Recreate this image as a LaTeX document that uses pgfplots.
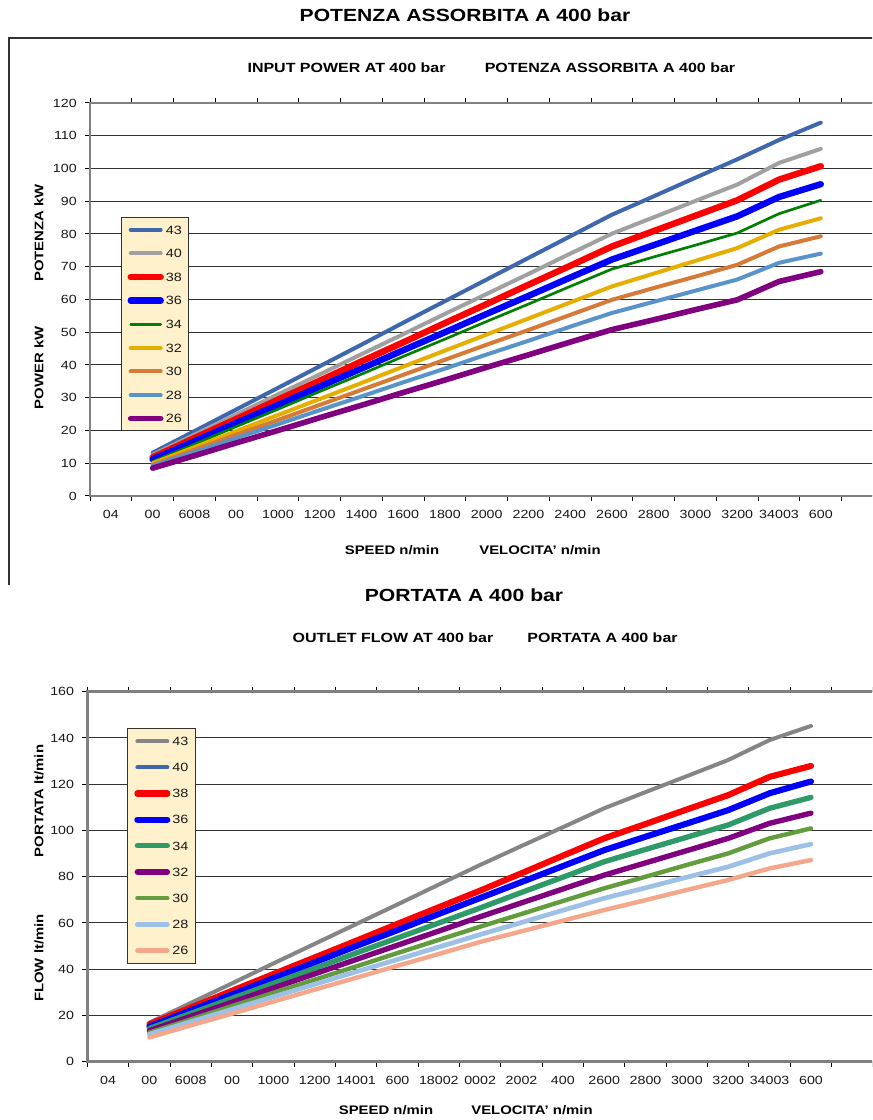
\documentclass[border=0pt]{standalone}
\usepackage{pgfplots}
\pgfplotsset{compat=1.18}
\usepackage{pgfplotstable}
\usepackage{fontspec}
\setmainfont{Liberation Sans}[FakeStretch=1.2]

\definecolor{tA}{HTML}{3F67AD}
\definecolor{tB}{HTML}{A0A0A0}
\definecolor{tC}{HTML}{FF0000}
\definecolor{tD}{HTML}{0000FF}
\definecolor{tE}{HTML}{008000}
\definecolor{tF}{HTML}{E6AE00}
\definecolor{tG}{HTML}{D67A38}
\definecolor{tH}{HTML}{5893C9}
\definecolor{tI}{HTML}{800080}
\definecolor{bA}{HTML}{858585}
\definecolor{bB}{HTML}{3F67AD}
\definecolor{bC}{HTML}{FF0000}
\definecolor{bD}{HTML}{0000FF}
\definecolor{bE}{HTML}{2E9A68}
\definecolor{bF}{HTML}{800080}
\definecolor{bG}{HTML}{629C3C}
\definecolor{bH}{HTML}{9CC0E6}
\definecolor{bI}{HTML}{F4A78A}
\definecolor{legfill}{HTML}{FFF1CC}
\definecolor{axgray}{HTML}{808080}

\pgfplotstableread{
k s43 s40 s38 s36 s34 s32 s30 s28 s26
1 13.2 12.6 11.8 11.2 10.5 10.0 9.5 9.2 8.5
2 19.8 18.7 17.7 16.7 15.8 14.9 14.1 13.4 12.3
3 26.4 24.9 23.5 22.3 21.2 19.8 18.7 17.7 16.2
4 33.0 31.0 29.4 27.8 26.5 24.7 23.2 21.9 20.0
5 39.6 37.1 35.2 33.4 31.9 29.6 27.8 26.2 23.9
6 46.2 43.3 41.1 38.9 37.2 34.5 32.4 30.4 27.7
7 52.9 49.4 46.9 44.5 42.6 39.5 37.0 34.7 31.6
8 59.5 55.6 52.8 50.0 47.9 44.4 41.6 38.9 35.4
9 66.1 61.7 58.6 55.6 53.3 49.3 46.2 43.2 39.3
10 72.7 67.8 64.5 61.1 58.6 54.2 50.7 47.4 43.1
11 79.3 74.0 70.3 66.7 64.0 59.1 55.3 51.7 47.0
12 85.9 80.1 76.2 72.2 69.3 64.0 59.9 55.9 50.8
13 91.5 85.1 80.9 76.6 73.0 67.9 63.5 59.3 53.8
14 97.2 90.1 85.6 81.0 76.6 71.8 67.0 62.7 56.9
15 102.8 95.1 90.3 85.4 80.3 75.7 70.6 66.1 59.9
16 108.7 101.7 96.6 91.3 86.2 81.3 76.2 71.2 65.5
17 114.0 106.0 100.7 95.2 90.3 84.8 79.3 74.0 68.5
}\topdata

\pgfplotstableread{
k s43 s40 s38 s36 s34 s32 s30 s28 s26
1 16.9 16.2 16.2 15.2 14.4 13.4 12.6 11.9 10.5
2 25.4 23.4 23.4 22.2 20.9 19.6 18.3 17.3 15.7
3 33.9 30.7 30.7 29.1 27.4 25.7 24.1 22.7 20.8
4 42.5 37.9 37.9 36.1 33.9 31.9 29.8 28.1 26.0
5 51.0 45.1 45.1 43.0 40.4 38.0 35.5 33.5 31.2
6 59.5 52.3 52.3 50.0 47.0 44.2 41.2 38.9 36.3
7 68.0 59.6 59.6 56.9 53.5 50.4 47.0 44.2 41.5
8 76.6 66.8 66.8 63.9 60.0 56.5 52.7 49.6 46.6
9 85.1 74.0 74.0 70.8 66.5 62.7 58.4 55.0 51.8
10 93.3 81.5 81.5 77.7 73.2 68.7 63.9 60.2 56.4
11 101.4 89.1 89.1 84.6 79.8 74.7 69.5 65.5 61.0
12 109.6 96.6 96.6 91.5 86.5 80.7 75.0 70.7 65.6
13 116.6 102.8 102.8 97.3 91.8 86.0 80.0 75.2 69.9
14 123.5 109.1 109.1 103.0 97.1 91.3 85.1 79.8 74.3
15 130.5 115.3 115.3 108.8 102.4 96.6 90.1 84.3 78.6
16 139.1 123.2 123.2 116.1 109.6 103.1 96.6 90.1 83.6
17 145.2 127.9 127.9 121.2 114.3 107.5 100.9 94.1 87.2
}\botdata

\pgfplotsset{
  excel/.style={
    scale only axis,
    xmin=-0.5, xmax=19.5,
    axis line style={draw=axgray, line width=2.2pt},
    ymajorgrids,
    major grid style={draw=black!80, line width=0.75pt},
    xtick={-0.5,0.5,1.5,2.5,3.5,4.5,5.5,6.5,7.5,8.5,9.5,10.5,11.5,12.5,13.5,14.5,15.5,16.5,17.5,18.5,19.5},
    x tick label as interval,
    tick align=outside,
    major tick length=3.75pt,
    tick style={draw=black, line width=0.75pt},
    tick label style={font=\fontsize{8.9}{10}\selectfont, text=black!90},
    /pgf/number format/assume math mode=true,
    xticklabel style={inner sep=0pt, anchor=north, yshift=-7pt},
    yticklabel style={inner sep=0pt, anchor=east, xshift=-6pt},
    legend cell align=left,
    legend image code/.code={\draw[##1, line cap=round] (0pt,0pt) -- (22.5pt,0pt);},
    every axis plot/.append style={line cap=round, line join=round},
  },
}

\begin{document}
\begin{tikzpicture}
\useasboundingbox (0,0) rectangle (654pt,840pt);
\clip (0,0) rectangle (654pt,840pt);
\fill[white] (0,0) rectangle (654pt,840pt);

% frame of the top chart
\draw[draw=black!80, line width=1pt] (6.75pt,401.25pt) -- (6.75pt,811.5pt) -- (660pt,811.5pt);

\begin{axis}[excel,
  at={(67.5pt,468pt)}, anchor=south west,
  width=626.4pt, height=294.75pt,
  ymin=0, ymax=120, ytick={0,10,...,120},
  xticklabels={04,00,6008,00,1000,1200,1400,1600,1800,2000,2200,2400,2600,2800,3000,3200,34003,600,{},{}},
  legend style={at={(0.037,0.71)}, anchor=north west, fill=legfill, draw=black!80, line width=0.9pt,
    inner xsep=4.5pt, inner ysep=5.5pt, row sep=10.3pt, column sep=1pt,
    font=\fontsize{9}{9}\selectfont, text=black!90,
    nodes={inner sep=0.5pt, text height=6.4pt, text depth=0pt}},
]
\addplot[tA, line width=3pt] table[x=k, y=s43] {\topdata};
\addplot[tB, line width=3pt] table[x=k, y=s40] {\topdata};
\addplot[tC, line width=4.8pt] table[x=k, y=s38] {\topdata};
\addplot[tD, line width=4.8pt] table[x=k, y=s36] {\topdata};
\addplot[tE, line width=2pt] table[x=k, y=s34] {\topdata};
\addplot[tF, line width=3pt] table[x=k, y=s32] {\topdata};
\addplot[tG, line width=3pt] table[x=k, y=s30] {\topdata};
\addplot[tH, line width=3pt] table[x=k, y=s28] {\topdata};
\addplot[tI, line width=4.2pt] table[x=k, y=s26] {\topdata};
\legend{43,40,38,36,34,32,30,28,26}
\end{axis}

\begin{axis}[excel,
  at={(65.5pt,43.7pt)}, anchor=south west,
  width=620.25pt, height=277.5pt,
  ymin=0, ymax=160, ytick={0,20,...,160},
  xticklabels={04,00,6008,00,1000,1200,14001,600,18002,0002,2002,400,2600,2800,3000,3200,34003,600,{},{}},
  legend style={at={(0.048,0.9027)}, anchor=north west, fill=legfill, draw=black!80, line width=0.9pt,
    inner xsep=5pt, inner ysep=6pt, row sep=12.2pt, column sep=1pt,
    font=\fontsize{9}{9}\selectfont, text=black!90,
    nodes={inner sep=0.5pt, text height=6.4pt, text depth=0pt}},
]
\addplot[bA, line width=3pt] table[x=k, y=s43] {\botdata};
\addplot[bB, line width=3pt] table[x=k, y=s40] {\botdata};
\addplot[bC, line width=4.6pt] table[x=k, y=s38] {\botdata};
\addplot[bD, line width=4.6pt] table[x=k, y=s36] {\botdata};
\addplot[bE, line width=4pt] table[x=k, y=s34] {\botdata};
\addplot[bF, line width=4pt] table[x=k, y=s32] {\botdata};
\addplot[bG, line width=3.3pt] table[x=k, y=s30] {\botdata};
\addplot[bH, line width=3.5pt] table[x=k, y=s28] {\botdata};
\addplot[bI, line width=3.3pt] table[x=k, y=s26] {\botdata};
\legend{43,40,38,36,34,32,30,28,26}
\end{axis}

% titles and labels
\node[anchor=base, font=\bfseries\fontsize{13.2}{15}\selectfont] at (348.75pt,824pt) {POTENZA ASSORBITA A 400 bar};
\node[anchor=base, font=\bfseries\fontsize{10}{12}\selectfont] at (259.9pt,785.25pt) {INPUT POWER AT 400 bar};
\node[anchor=base, font=\bfseries\fontsize{10}{12}\selectfont] at (457.5pt,785.25pt) {POTENZA ASSORBITA A 400 bar};
\node[anchor=base, font=\bfseries\fontsize{9.3}{11}\selectfont] at (294pt,424.1pt) {SPEED n/min};
\node[anchor=base, font=\bfseries\fontsize{9.3}{11}\selectfont] at (405pt,424.1pt) {VELOCITA' n/min};
\node[rotate=90, font=\bfseries\fontsize{9.3}{11}\selectfont] at (29.25pt,665.25pt) {POTENZA kW};
\node[rotate=90, font=\bfseries\fontsize{9.3}{11}\selectfont] at (29.25pt,564pt) {POWER kW};

\node[anchor=base, font=\bfseries\fontsize{13.2}{15}\selectfont] at (348pt,389.1pt) {PORTATA A 400 bar};
\node[anchor=base, font=\bfseries\fontsize{10}{12}\selectfont] at (294.75pt,357.75pt) {OUTLET FLOW AT 400 bar};
\node[anchor=base, font=\bfseries\fontsize{10}{12}\selectfont] at (451.9pt,357.75pt) {PORTATA A 400 bar};
\node[anchor=base, font=\bfseries\fontsize{9.3}{11}\selectfont] at (289.5pt,4.1pt) {SPEED n/min};
\node[anchor=base, font=\bfseries\fontsize{9.3}{11}\selectfont] at (399pt,4.1pt) {VELOCITA' n/min};
\node[rotate=90, font=\bfseries\fontsize{9.3}{11}\selectfont] at (29.25pt,239.25pt) {PORTATA lt/min};
\node[rotate=90, font=\bfseries\fontsize{9.3}{11}\selectfont] at (29.25pt,121.5pt) {FLOW lt/min};
\end{tikzpicture}
\end{document}
